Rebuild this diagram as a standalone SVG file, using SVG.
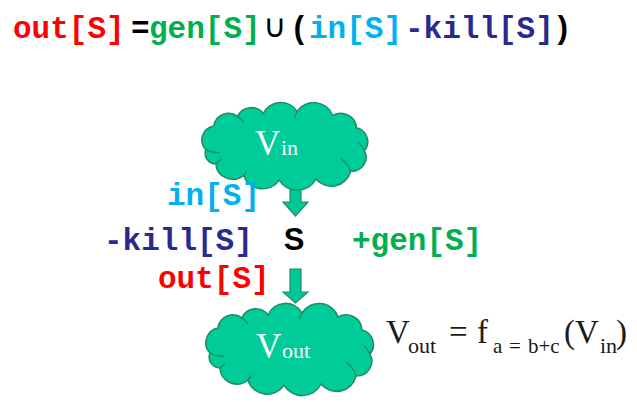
<svg xmlns="http://www.w3.org/2000/svg" width="637" height="402" viewBox="0 0 637 402">
<style>
.mono{font-family:"Liberation Mono","Courier New",monospace;font-weight:bold;font-size:31px}
.red{fill:#FF0000}.grn{fill:#00B050}.blu{fill:#00B0F0}.navy{fill:#2A2A8E}.blk{fill:#000}
.serif{font-family:"Liberation Serif","Times New Roman",serif}
.cloud{fill:#00CC99;stroke:#1E8E65;stroke-width:1.6}
.crease{fill:none;stroke:#1E8E65;stroke-width:1.4}
.arrow{fill:#00C896;stroke:#1E8E65;stroke-width:1.2}
</style>
<defs>
<g id="cloudShape">
<path class="cloud" d="M4,47 A15,15 0 0 1 12,22 A15,15 0 0 1 36,12 A15,15 0 0 1 62,9 A19,19 0 0 1 96,7 A20,20 0 0 1 132,11 A16,16 0 0 1 156,24 A15,15 0 0 1 164,48 A15,15 0 0 1 150,70 A20,20 0 0 1 115,78 A21,21 0 0 1 78,79 A20,20 0 0 1 42,74 A17,17 0 0 1 14,62 A11,11 0 0 1 4,47 Z"/>
<path class="crease" d="M4,47 Q11,51 18,50"/>
<path class="crease" d="M14,62 Q17,60 19,57"/>
<path class="crease" d="M42,74 Q44,72 45,69"/>
<path class="crease" d="M150,70 Q148,62 140,56"/>
<path class="crease" d="M164,48 Q162,43 158,40"/>
<path class="crease" d="M36,12 Q40,15 42,18"/>
<path class="crease" d="M96,7 Q95,10 93,13"/>
</g>
</defs>

<g id="title">
<text class="mono" y="38"><tspan class="red" x="13">out[S]</tspan><tspan class="blk" x="131">=</tspan><tspan class="grn" x="149">gen[S]</tspan></text>
<text x="275" y="37" text-anchor="middle" style="font-family:'DejaVu Sans',sans-serif;font-size:32px" fill="#000">∪</text>
<text class="mono" y="38"><tspan class="blk" x="290">(</tspan><tspan class="blu" x="309">in[S]</tspan><tspan class="navy" x="405">-kill[S]</tspan><tspan class="blk" x="553">)</tspan></text>
</g>

<g id="connectors">
<polygon class="arrow" points="290,180 301,180 301,202 308,202 295.5,216 283,202 290,202"/>
<polygon class="arrow" points="290,269 301,269 301,292 308,292 295.5,303 283,292 290,292"/>
</g>

<g id="node-vin">
<use href="#cloudShape" transform="translate(202,105) scale(0.99,0.95)"/>
<text class="serif" y="155" fill="#fff"><tspan x="255" font-size="35">V</tspan><tspan x="281" font-size="22">in</tspan></text>
</g>

<g id="node-s">
<text x="294" y="250" text-anchor="middle" style="font-family:'Liberation Sans',Arial,sans-serif;font-weight:bold;font-size:31px" fill="#000">S</text>
</g>

<g id="labels">
<text class="mono blu" x="167" y="205">in[S]</text>
<text class="mono navy" x="104" y="250">-kill[S]</text>
<text class="mono grn" x="352" y="250">+gen[S]</text>
<text class="mono red" x="158" y="288">out[S]</text>
</g>

<g id="node-vout">
<use href="#cloudShape" transform="translate(206,306)"/>
<text class="serif" y="358" fill="#fff"><tspan x="256" font-size="35">V</tspan><tspan x="282" font-size="22">out</tspan></text>
</g>

<g id="formula" class="serif" fill="#1a1a1a">
<text y="343" font-size="33" x="386">V</text>
<text y="353" font-size="22" x="408">out</text>
<text y="343" font-size="33" x="449">=</text>
<text y="343" font-size="33" x="477">f</text>
<text y="353" font-size="21"><tspan x="493">a</tspan><tspan x="509">=</tspan><tspan x="528">b+c</tspan></text>
<text y="343" font-size="33" x="564">(</text>
<text y="343" font-size="33" x="575">V</text>
<text y="353" font-size="22" x="600">in</text>
<text y="343" font-size="33" x="616">)</text>
</g>
</svg>
